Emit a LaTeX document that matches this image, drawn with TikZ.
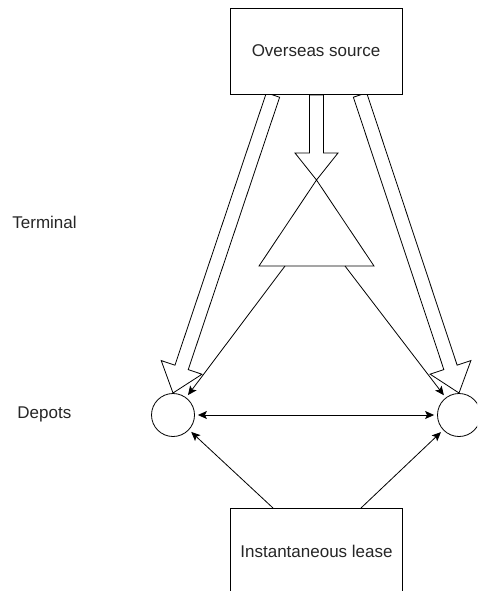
\documentclass[tikz,border=0pt]{standalone}
\usepackage{fontspec}
\setmainfont{Liberation Sans}
\usetikzlibrary{calc,arrows.meta}

% hollow block arrow from #1 (tail) to #2 (tip)
\newcommand\drawblockarrow[2]{%
  \coordinate (hb) at ($(#2)!27pt!(#1)$);
  \draw[blockarrow]
    ($(#1)!7pt!90:(#2)$) --
    ($(hb)!7pt!90:(#2)$) --
    ($(hb)!21.5pt!90:(#2)$) --
    (#2) --
    ($(hb)!21.5pt!-90:(#2)$) --
    ($(hb)!7pt!-90:(#2)$) --
    ($(#1)!7pt!-90:(#2)$) -- cycle;
}

\begin{document}
\begin{tikzpicture}[x=1pt,y=-1pt,
  line width=0.8pt,
  txt/.style={font=\fontsize{17}{20}\selectfont, text=black!85},
  box/.style={draw, fill=white, rectangle, minimum width=172pt, minimum height=86pt, inner sep=0pt, txt},
  depot/.style={draw, circle, minimum size=43pt, inner sep=0pt},
  lbl/.style={anchor=west, inner sep=0pt, txt},
  flow/.style={-{Stealth[length=9pt,width=8pt,inset=2pt]}, shorten >=3pt},
  twoway/.style={{Stealth[length=9pt,width=8pt,inset=2pt]}-{Stealth[length=9pt,width=8pt,inset=2pt]}, shorten >=3pt, shorten <=3pt},
  blockarrow/.style={draw, fill=white, line join=miter}
]
\useasboundingbox (0,0) rectangle (477,591);
\clip (0,0) rectangle (477,591);

% depots
\node[depot] (dl) at (173,415) {};
\node[depot] (dr) at (459,415) {};

% terminal triangle
\coordinate (apex) at (316.5,180);
\coordinate (tbl) at (259,266);
\coordinate (tbr) at (374,266);
\draw (apex) -- (tbl) -- (tbr) -- cycle;

% block arrows out of the overseas source
\coordinate (sl) at (273,95);
\coordinate (sm) at (316.5,95);
\coordinate (sr) at (360,95);
\coordinate (tl) at (173,393);
\coordinate (tr) at (459,393);
\drawblockarrow{sl}{tl}
\drawblockarrow{sm}{apex}
\drawblockarrow{sr}{tr}

% boxes
\node[box] (src) at (316,51) {Overseas source};
\node[box] (lease) at (316.5,551) {Instantaneous lease};

% terminal to depots
\coordinate (ta) at (285,266);
\coordinate (tb) at (345,266);
\draw[flow] (ta) -- (dl);
\draw[flow] (tb) -- (dr);

% between depots
\draw[twoway] (dl) -- (dr);

% lease to depots
\coordinate (la) at (273,508);
\coordinate (lb) at (361,508);
\draw[flow] (la) -- (dl);
\draw[flow] (lb) -- (dr);

% level labels
\node[lbl] (lterm) at (12,222) {Terminal};
\node[lbl] (ldep) at (17,414) {Depots};
\end{tikzpicture}
\end{document}
